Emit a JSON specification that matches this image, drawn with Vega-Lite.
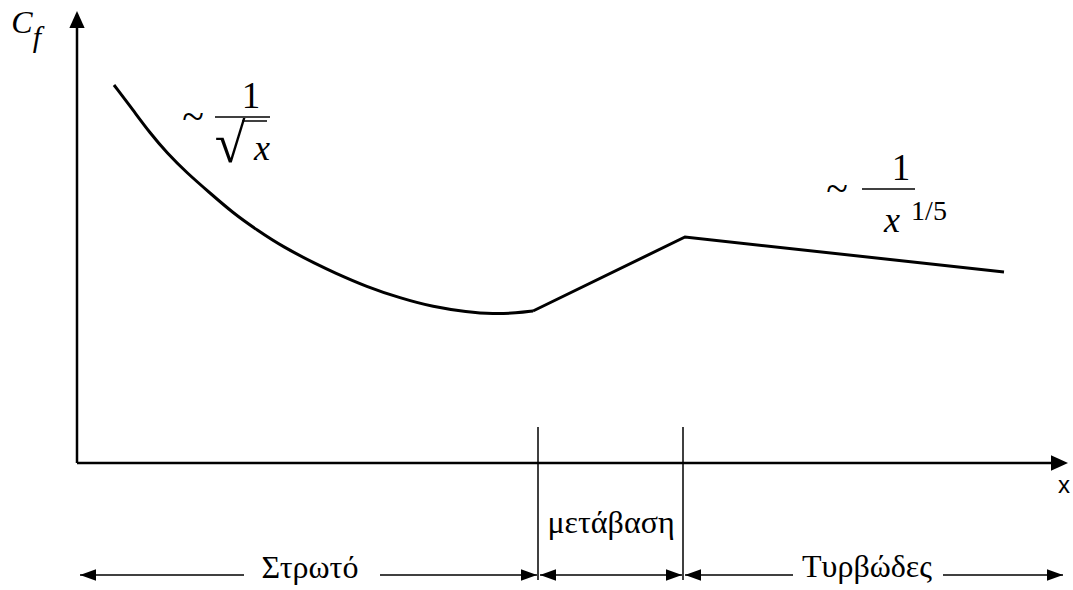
{
  "$schema": "https://vega.github.io/schema/vega-lite/v6.json",
  "width": 1073,
  "height": 590,
  "padding": 0,
  "autosize": {"type": "fit", "contains": "padding"},
  "background": "white",
  "config": {"view": {"stroke": null}, "text": {"font": "Liberation Serif", "color": "black"}},
  "datasets": {
    "axes": [
      {"x": 0, "y": 0, "x2": 0, "y2": 448},
      {"x": 0, "y": 0, "x2": 987, "y2": 0}
    ],
    "axisTips": [
      {"x": 0, "y": 452, "dir": 270},
      {"x": 991, "y": 0, "dir": 0}
    ],
    "laminar": [
      {"x": 37, "y": 378}, {"x": 56, "y": 353}, {"x": 73, "y": 330},
      {"x": 90, "y": 310}, {"x": 110, "y": 290}, {"x": 133, "y": 270},
      {"x": 156, "y": 250}, {"x": 180, "y": 233}, {"x": 206, "y": 216},
      {"x": 241, "y": 198}, {"x": 256, "y": 191}, {"x": 290, "y": 176},
      {"x": 323, "y": 165}, {"x": 356, "y": 156}, {"x": 390, "y": 151},
      {"x": 416, "y": 149}, {"x": 440, "y": 150}, {"x": 456, "y": 152}
    ],
    "transitionTurbulent": [
      {"x": 456, "y": 152}, {"x": 608, "y": 226}, {"x": 927, "y": 191}
    ],
    "guides": [
      {"x": 461, "y": 36, "x2": 461, "y2": -117},
      {"x": 606, "y": 36, "x2": 606, "y2": -117}
    ],
    "spans": [
      {"x": 3, "y": -112, "x2": 167, "y2": -112},
      {"x": 303, "y": -112, "x2": 460, "y2": -112},
      {"x": 463, "y": -112, "x2": 605, "y2": -112},
      {"x": 608, "y": -112, "x2": 716, "y2": -112},
      {"x": 866, "y": -112, "x2": 986, "y2": -112}
    ],
    "spanTips": [
      {"x": 3, "y": -112, "dir": 180},
      {"x": 460, "y": -112, "dir": 0},
      {"x": 463, "y": -112, "dir": 180},
      {"x": 605, "y": -112, "dir": 0},
      {"x": 608, "y": -112, "dir": 180},
      {"x": 986, "y": -112, "dir": 0}
    ],
    "bars": [
      {"x": 138, "y": 346, "x2": 193, "y2": 346},
      {"x": 165, "y": 342, "x2": 190, "y2": 342},
      {"x": 785, "y": 274, "x2": 838, "y2": 274}
    ],
    "capital": [
      {"x": -55, "y": 430, "label": "C"}
    ],
    "subscript": [
      {"x": -40, "y": 416, "label": "f"}
    ],
    "formulaItalic": [
      {"x": 185, "y": 303, "label": "x"},
      {"x": 815, "y": 231, "label": "x"}
    ],
    "formulaUpright": [
      {"x": 174, "y": 355, "label": "1"},
      {"x": 824, "y": 283, "label": "1"}
    ],
    "tildes": [
      {"x": 116, "y": 333, "label": "~"},
      {"x": 760, "y": 261, "label": "~"}
    ],
    "radical": [
      {"x": 153, "y": 301, "label": "√"}
    ],
    "exponent": [
      {"x": 852, "y": 243, "label": "1/5"}
    ],
    "regions": [
      {"x": 534, "y": -70, "label": "μετάβαση"},
      {"x": 233, "y": -115, "label": "Στρωτό"},
      {"x": 790, "y": -114, "label": "Τυρβώδες"}
    ],
    "xLabel": [
      {"x": 987, "y": -30, "label": "x"}
    ]
  },
  "encoding": {
    "x": {"field": "x", "type": "quantitative", "axis": null,
          "scale": {"domain": [-77, 996], "nice": false, "zero": false}},
    "y": {"field": "y", "type": "quantitative", "axis": null,
          "scale": {"domain": [-127, 463], "nice": false, "zero": false}}
  },
  "layer": [
    {
      "data": {"name": "axes"},
      "mark": {"type": "rule", "stroke": "black", "strokeWidth": 2.5},
      "encoding": {"x2": {"field": "x2"}, "y2": {"field": "y2"}}
    },
    {
      "data": {"name": "axisTips"},
      "mark": {"type": "point", "filled": true, "color": "black", "opacity": 1,
               "shape": "M0,0L-1,-0.45L-1,0.45Z", "size": 1156},
      "encoding": {"angle": {"field": "dir", "type": "quantitative", "scale": null}}
    },
    {
      "data": {"name": "laminar"},
      "mark": {"type": "line", "color": "black", "strokeWidth": 3, "interpolate": "basis"}
    },
    {
      "data": {"name": "transitionTurbulent"},
      "mark": {"type": "line", "color": "black", "strokeWidth": 3, "strokeJoin": "miter"}
    },
    {
      "data": {"name": "guides"},
      "mark": {"type": "rule", "stroke": "black", "strokeWidth": 1.5},
      "encoding": {"x2": {"field": "x2"}, "y2": {"field": "y2"}}
    },
    {
      "data": {"name": "spans"},
      "mark": {"type": "rule", "stroke": "black", "strokeWidth": 1.6},
      "encoding": {"x2": {"field": "x2"}, "y2": {"field": "y2"}}
    },
    {
      "data": {"name": "spanTips"},
      "mark": {"type": "point", "filled": true, "color": "black", "opacity": 1,
               "shape": "M0,0L-1,-0.36L-1,0.36Z", "size": 1024},
      "encoding": {"angle": {"field": "dir", "type": "quantitative", "scale": null}}
    },
    {
      "data": {"name": "bars"},
      "mark": {"type": "rule", "stroke": "black", "strokeWidth": 1.5},
      "encoding": {"x2": {"field": "x2"}, "y2": {"field": "y2"}}
    },
    {
      "data": {"name": "capital"},
      "mark": {"type": "text", "fontStyle": "italic", "fontSize": 32,
               "align": "center", "baseline": "alphabetic"},
      "encoding": {"text": {"field": "label"}}
    },
    {
      "data": {"name": "subscript"},
      "mark": {"type": "text", "fontStyle": "italic", "fontSize": 30,
               "align": "center", "baseline": "alphabetic"},
      "encoding": {"text": {"field": "label"}}
    },
    {
      "data": {"name": "formulaItalic"},
      "mark": {"type": "text", "fontStyle": "italic", "fontSize": 36,
               "align": "center", "baseline": "alphabetic"},
      "encoding": {"text": {"field": "label"}}
    },
    {
      "data": {"name": "formulaUpright"},
      "mark": {"type": "text", "fontSize": 37,
               "align": "center", "baseline": "alphabetic"},
      "encoding": {"text": {"field": "label"}}
    },
    {
      "data": {"name": "tildes"},
      "mark": {"type": "text", "fontSize": 40,
               "align": "center", "baseline": "alphabetic"},
      "encoding": {"text": {"field": "label"}}
    },
    {
      "data": {"name": "radical"},
      "mark": {"type": "text", "fontSize": 56,
               "align": "center", "baseline": "alphabetic"},
      "encoding": {"text": {"field": "label"}}
    },
    {
      "data": {"name": "exponent"},
      "mark": {"type": "text", "fontSize": 28,
               "align": "center", "baseline": "alphabetic"},
      "encoding": {"text": {"field": "label"}}
    },
    {
      "data": {"name": "regions"},
      "mark": {"type": "text", "fontSize": 32,
               "align": "center", "baseline": "alphabetic"},
      "encoding": {"text": {"field": "label"}}
    },
    {
      "data": {"name": "xLabel"},
      "mark": {"type": "text", "font": "Liberation Sans", "fontSize": 24,
               "align": "center", "baseline": "alphabetic"},
      "encoding": {"text": {"field": "label"}}
    }
  ]
}
